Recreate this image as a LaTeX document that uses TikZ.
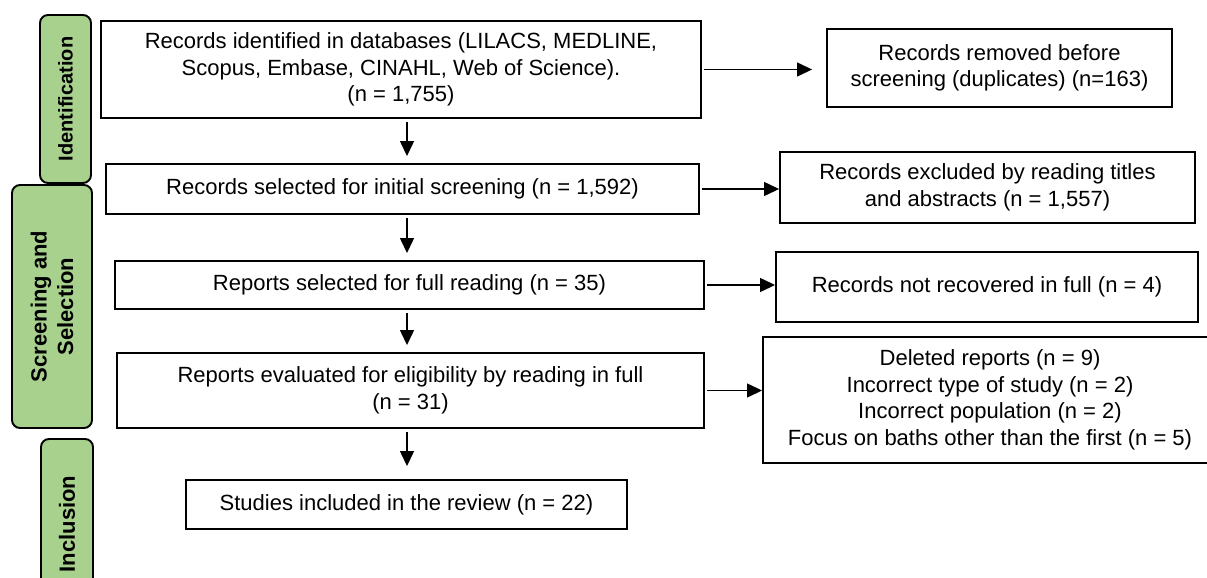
\documentclass[tikz,border=0pt]{standalone}
\usepackage{fontspec}
\setmainfont{Liberation Sans}
\usetikzlibrary{arrows.meta,positioning}
\definecolor{phasegreen}{HTML}{A9D18E}

\tikzset{
  box/.style={draw, line width=1.9pt, inner sep=0pt, align=center,
    font=\fontsize{22}{26.5}\selectfont},
  phase/.style={draw, line width=1.9pt, rounded corners=8pt, fill=phasegreen,
    inner sep=0pt, align=center, rotate=90,
    font=\fontsize{22}{26.5}\selectfont\bfseries},
  arrow/.style={-{Triangle[length=15pt,width=14pt]}, line width=1.3pt}
}

\begin{document}
\begin{tikzpicture}
  \useasboundingbox (0,0) rectangle (1207pt,-578pt);

  % main column
  \node (ident) [box, minimum width=600pt, minimum height=97pt] at (401pt,-69.5pt)
    {Records identified in databases (LILACS, MEDLINE,\\ Scopus, Embase, CINAHL, Web of Science).\\ (n = 1,755)};
  \node (screen) [box, minimum width=593pt, minimum height=50pt,
    below of=ident, node distance=119.5pt, xshift=1.5pt]
    {Records selected for initial screening (n = 1,592)};
  \node (full) [box, minimum width=589pt, minimum height=48pt,
    below of=screen, node distance=96pt, xshift=7pt]
    {Reports selected for full reading (n = 35)};
  \node (elig) [box, minimum width=587pt, minimum height=75pt,
    below of=full, node distance=105.5pt, xshift=1pt]
    {Reports evaluated for eligibility by reading in full\\ (n = 31)};
  \node (incl) [box, minimum width=441pt, minimum height=49pt,
    below of=elig, node distance=114pt, xshift=-4pt]
    {Studies included in the review (n = 22)};

  % excluded records
  \node (removed) [box, minimum width=345pt, minimum height=78pt,
    right of=ident, node distance=598.5pt, yshift=1.5pt]
    {Records removed before\\ screening (duplicates) (n=163)};
  \node (excluded) [box, minimum width=415pt, minimum height=71pt,
    right of=screen, node distance=585pt, yshift=1.5pt]
    {Records excluded by reading titles\\ and abstracts (n = 1,557)};
  \node (notrec) [box, minimum width=422pt, minimum height=70pt,
    right of=full, node distance=577.5pt, yshift=-2pt]
    {Records not recovered in full (n = 4)};
  \node (deleted) [box, minimum width=454pt, minimum height=126pt,
    right of=elig, node distance=579.5pt, yshift=-9.5pt]
    {Deleted reports (n = 9)\\ Incorrect type of study (n = 2)\\ Incorrect population (n = 2)\\ Focus on baths other than the first (n = 5)};

  % phases
  \node (pident) [phase, minimum width=168pt, minimum height=51pt,
    font=\fontsize{20}{24}\selectfont\bfseries] at (65.5pt,-99pt) {Identification};
  \node (pscreen) [phase, minimum width=243pt, minimum height=80pt] at (52pt,-306.5pt)
    {Screening and\\ Selection};
  \node (pincl) [phase, minimum width=170pt, minimum height=52pt] at (67pt,-524pt) {Inclusion};

  \coordinate (axis) at (407pt,0);

\foreach \from/\to/\gap in
{ident/screen/7, screen/full/7, full/elig/7, elig/incl/13}
    \draw[arrow, shorten <=3pt, shorten >=\gap pt] (\from.south -| axis) -- (\to.north -| axis);

\foreach \from/\to/\gap in
{ident/removed/14, screen/excluded/0, full/notrec/0, elig/deleted/0}
    \draw[arrow, shorten <=2pt, shorten >=\gap pt] (\from.east) -- (\from.east -| \to.west);
\end{tikzpicture}
\end{document}
